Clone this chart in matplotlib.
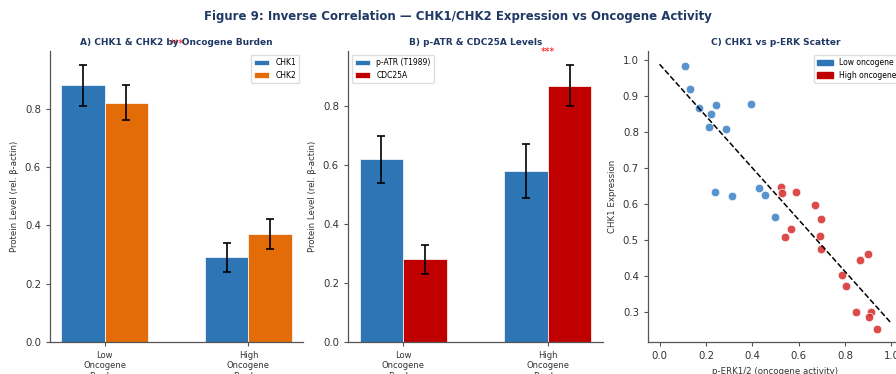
import numpy as np
import matplotlib
matplotlib.use("Agg")
import matplotlib.pyplot as plt
from matplotlib.patches import Patch

# data
groups = ["Low\nOncogene\nBurden", "High\nOncogene\nBurden"]
chk1 = [0.88, 0.29]
chk1_err = [0.07, 0.05]
chk2 = [0.82, 0.37]
chk2_err = [0.06, 0.05]
patr = [0.62, 0.58]
patr_err = [0.08, 0.09]
cdc25a = [0.28, 0.87]
cdc25a_err = [0.05, 0.07]

low_erk = [0.109, 0.132, 0.170, 0.245, 0.220, 0.213, 0.286, 0.394, 0.241, 0.312, 0.429, 0.455, 0.496]
low_chk1 = [0.983, 0.919, 0.866, 0.875, 0.850, 0.815, 0.809, 0.877, 0.632, 0.621, 0.644, 0.624, 0.563]
high_erk = [0.522, 0.529, 0.588, 0.543, 0.567, 0.670, 0.696, 0.693, 0.697, 0.864, 0.901, 0.786, 0.803,
            0.848, 0.910, 0.904, 0.938]
high_chk1 = [0.646, 0.631, 0.633, 0.508, 0.529, 0.597, 0.559, 0.512, 0.474, 0.443, 0.460, 0.402, 0.372,
             0.300, 0.300, 0.286, 0.253]
trend_x = [0.0, 1.0]
trend_y = [0.988, 0.268]

BLUE = "#2E75B6"
ORANGE = "#E36C09"
RED = "#C00000"
NAVY = "#1F3864"

plt.rcParams["font.family"] = "DejaVu Sans"
fig = plt.figure(figsize=(8.96, 3.74), dpi=100)

# the reference is cropped on the right and bottom, so the title sits a bit right of centre
fig.text(0.511, 0.955, "Figure 9: Inverse Correlation \u2014 CHK1/CHK2 Expression vs Oncogene Activity",
         ha="center", va="center", fontsize=8.5, fontweight="bold", color=NAVY)

axA = fig.add_axes([0.0558, 0.0856, 0.2824, 0.778])
axB = fig.add_axes([0.3884, 0.0856, 0.2846, 0.778])
axC = fig.add_axes([0.7232, 0.0856, 0.2846, 0.778])


def style(ax):
    for s in ["top", "right"]:
        ax.spines[s].set_visible(False)
    for s in ["left", "bottom"]:
        ax.spines[s].set_color("#555555")
        ax.spines[s].set_linewidth(0.9)
    ax.tick_params(labelsize=7.3, length=3, width=0.8, color="#555555", labelcolor="#333333")


def bars(ax, v1, e1, c1, l1, v2, e2, c2, l2):
    x = np.arange(len(groups))
    w = 0.3
    ax.bar(x - w / 2, v1, w, yerr=e1, color=c1, label=l1, capsize=3,
           error_kw=dict(elinewidth=1.2, capthick=1.2, ecolor="black"), edgecolor="white", linewidth=0.5)
    ax.bar(x + w / 2, v2, w, yerr=e2, color=c2, label=l2, capsize=3,
           error_kw=dict(elinewidth=1.2, capthick=1.2, ecolor="black"), edgecolor="white", linewidth=0.5)
    ax.set_xticks(x)
    ax.set_xticklabels(groups, fontsize=6)
    ax.set_ylabel("Protein Level (rel. \u03b2-actin)", fontsize=6.2, color="#333333")
    ax.set_yticks([0.0, 0.2, 0.4, 0.6, 0.8])
    style(ax)
    ax.tick_params(axis="x", labelsize=6)


# A
bars(axA, chk1, chk1_err, BLUE, "CHK1", chk2, chk2_err, ORANGE, "CHK2")
axA.set_title("A) CHK1 & CHK2 by Oncogene Burden", fontsize=6.5, fontweight="bold", color=NAVY, pad=4)
axA.text(0.5, 1.005, "***", ha="center", va="bottom", color="red", fontsize=7)
axA.legend(loc="upper right", fontsize=5.5, framealpha=1, edgecolor="#dddddd")

# B
bars(axB, patr, patr_err, BLUE, "p-ATR (T1989)", cdc25a, cdc25a_err, RED, "CDC25A")
axB.set_title("B) p-ATR & CDC25A Levels", fontsize=6.5, fontweight="bold", color=NAVY, pad=4)
axB.text(1.0, 0.965, "***", ha="center", va="bottom", color="red", fontsize=7)
axB.legend(loc="upper left", fontsize=5.5, framealpha=1, edgecolor="#dddddd")

# C
axC.scatter(low_erk, low_chk1, s=38, color="#3A80C4", alpha=0.85, edgecolors="white", linewidths=0.6, zorder=3)
axC.scatter(high_erk, high_chk1, s=38, color="#D62A2A", alpha=0.85, edgecolors="white", linewidths=0.6, zorder=3)
axC.plot(trend_x, trend_y, "k--", lw=1.1, zorder=4)
axC.set_title("C) CHK1 vs p-ERK Scatter", fontsize=6.5, fontweight="bold", color=NAVY, pad=4)
axC.set_xlabel("p-ERK1/2 (oncogene activity)", fontsize=6.2, color="#333333")
axC.set_ylabel("CHK1 Expression", fontsize=6.2, color="#333333")
style(axC)
axC.legend(handles=[Patch(color=BLUE, label="Low oncogene"), Patch(color=RED, label="High oncogene")],
           loc="upper right", fontsize=5.5, framealpha=1, edgecolor="#dddddd")

fig.savefig("out.png", dpi=100)
